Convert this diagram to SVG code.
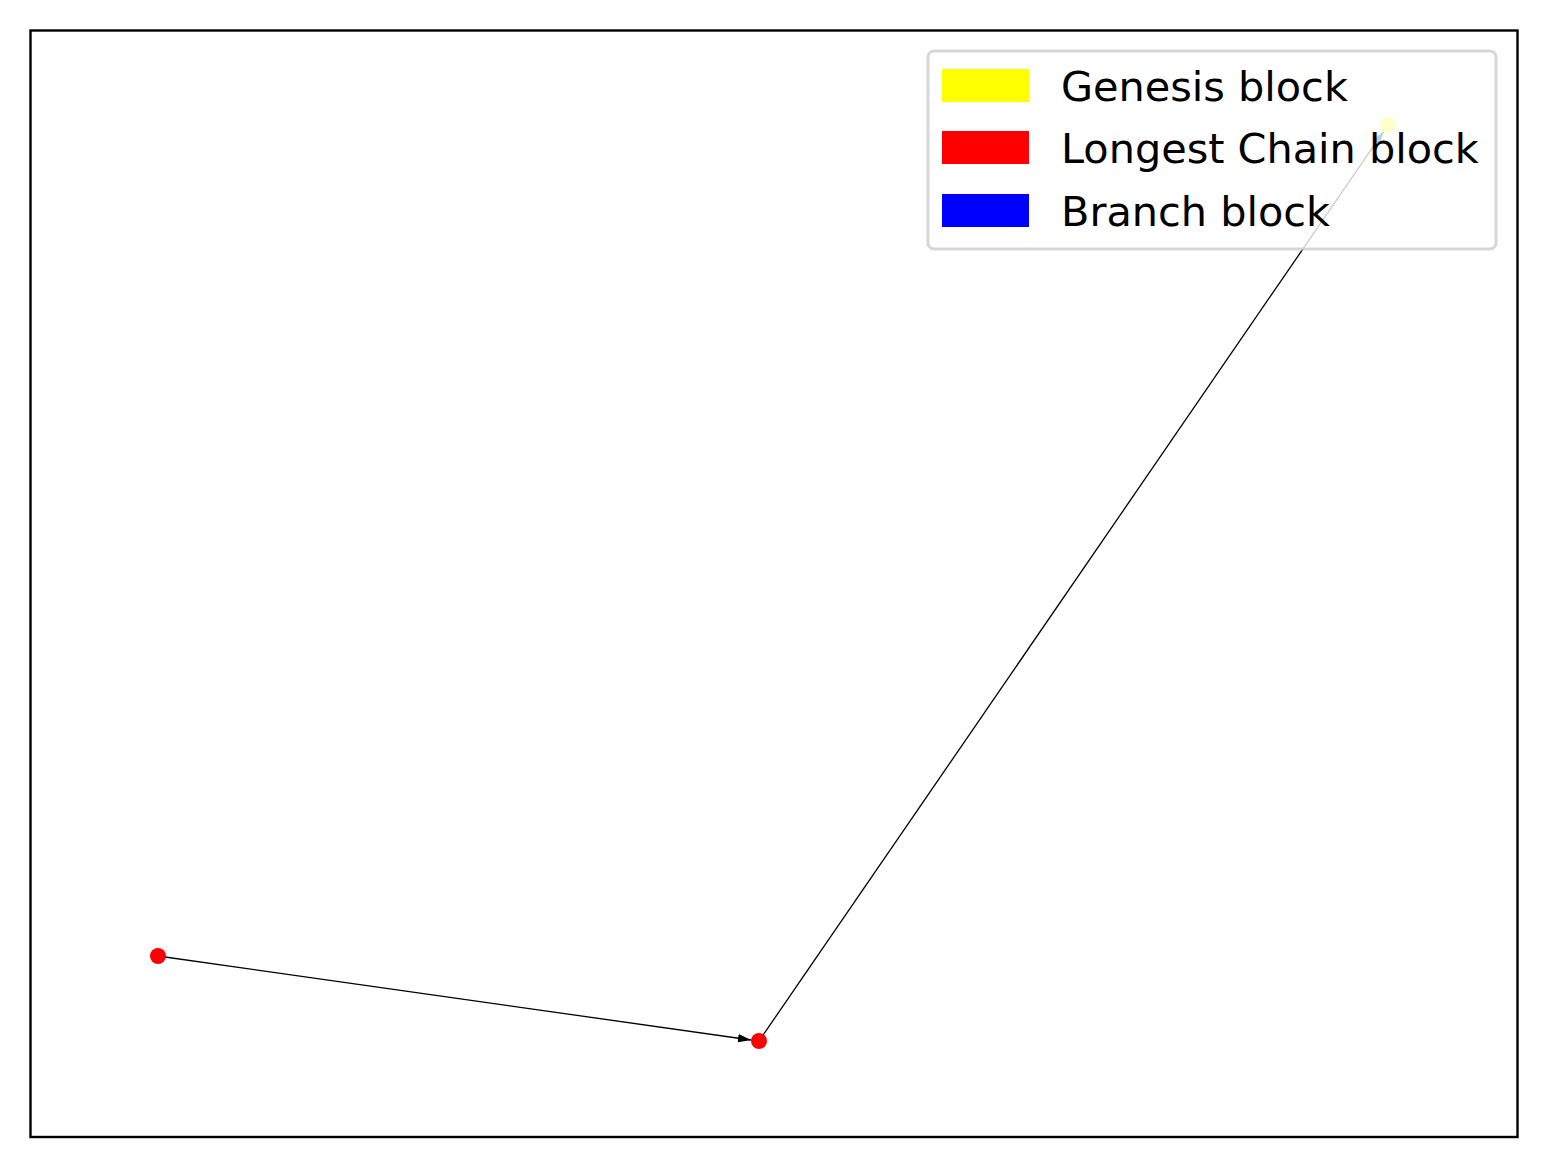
<svg xmlns="http://www.w3.org/2000/svg" width="1548" height="1168" viewBox="0 0 1548 1168">
<style>
.edge{stroke:#000;stroke-width:1.3;fill:none}
.lt{font-family:"DejaVu Sans",sans-serif;font-size:41.4px;fill:#000}
</style>
<defs>
<marker id="ah" markerWidth="14" markerHeight="10" refX="13" refY="5" orient="auto" markerUnits="userSpaceOnUse">
<path d="M0,0.8 L13,5 L0,9.2 Z" fill="#000"/>
</marker>
</defs>
<rect x="0" y="0" width="1548" height="1168" fill="#fff"/>
<rect x="30.5" y="30.5" width="1487" height="1106.5" fill="none" stroke="#000" stroke-width="2.4"/>
<g id="connectors">
<line class="edge" x1="158" y1="956" x2="751" y2="1040" marker-end="url(#ah)"/>
<line class="edge" x1="759" y1="1041" x2="1383.5" y2="131.6" marker-end="url(#ah)"/>
</g>
<g id="node-1"><circle cx="158" cy="956" r="8" fill="#f00"/></g>
<g id="node-2"><circle cx="759" cy="1041" r="8" fill="#f00"/></g>
<g id="node-genesis"><circle cx="1388" cy="125" r="8" fill="#ff0"/></g>
<g id="legend">
<rect x="928" y="51" width="568" height="198" rx="6" fill="#fff" fill-opacity="0.8" stroke="#ccc" stroke-opacity="0.8" stroke-width="3"/>
<rect x="942" y="69" width="87" height="33" fill="#ff0"/>
<rect x="942" y="131" width="87" height="33" fill="#f00"/>
<rect x="942" y="194" width="87" height="33" fill="#00f"/>
<text class="lt" x="1061" y="101">Genesis block</text>
<text class="lt" x="1061" y="163">Longest Chain block</text>
<text class="lt" x="1061" y="226">Branch block</text>
</g>
</svg>
